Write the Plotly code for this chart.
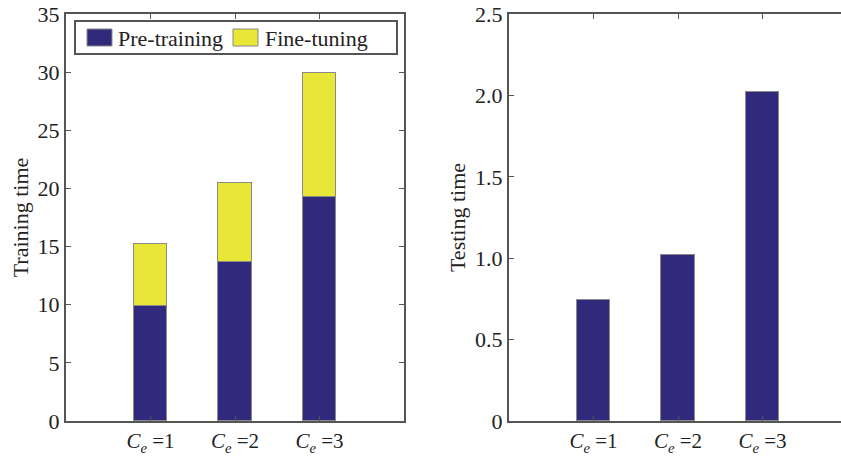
import plotly.graph_objects as go

# Data
categories = [1, 2, 3]
tick_labels = ["<i>C</i><sub><i>e</i></sub> =1", "<i>C</i><sub><i>e</i></sub> =2", "<i>C</i><sub><i>e</i></sub> =3"]
series_names = ["Pre-training", "Fine-tuning"]
pre_training = [9.86, 13.65, 19.26]
fine_tuning = [5.39, 6.79, 10.69]
testing_time = [0.745, 1.021, 2.019]

navy = "#312a7c"
yellow = "#e8e637"
axis_color = "#555555"
edge_color = "#8a8a8a"
text_color = "#222222"
font_family = "Liberation Serif, Times New Roman, serif"

W, H = 841, 459

fig = go.Figure()
fig.add_trace(go.Bar(x=categories, y=pre_training, name=series_names[0], width=0.4,
                     marker=dict(color=navy, line=dict(color=edge_color, width=1)),
                     xaxis="x", yaxis="y", showlegend=False))
fig.add_trace(go.Bar(x=categories, y=fine_tuning, name=series_names[1], width=0.4,
                     marker=dict(color=yellow, line=dict(color=edge_color, width=1)),
                     xaxis="x", yaxis="y", showlegend=False))
fig.add_trace(go.Bar(x=categories, y=testing_time, name="Testing", width=0.4, showlegend=False,
                     marker=dict(color=navy, line=dict(color=edge_color, width=1)),
                     xaxis="x2", yaxis="y2"))

common_x = dict(tickmode="array", tickvals=categories, ticktext=tick_labels,
                ticks="inside", ticklen=5, tickcolor=axis_color, showline=True,
                linecolor=axis_color, linewidth=2, showgrid=False, zeroline=False,
                automargin=False,
                tickfont=dict(family=font_family, size=21, color=text_color))
common_y = dict(ticks="inside", ticklen=5, tickcolor=axis_color, showline=True,
                linecolor=axis_color, linewidth=2, showgrid=False, zeroline=False,
                automargin=False,
                tickfont=dict(family=font_family, size=22, color=text_color),
                title_font=dict(family=font_family, size=22, color=text_color))

y_bottom = 1 - 421 / H
y_top = 1 - 14 / H

# Legend box drawn in pixel-derived paper coordinates
def px(x):
    return x / W

def py(y):
    return 1 - y / H

shapes = [
    dict(type="rect", xref="paper", yref="paper", x0=px(75), x1=px(397), y0=py(54), y1=py(21),
         line=dict(color=axis_color, width=2), fillcolor="white", layer="above"),
    dict(type="rect", xref="paper", yref="paper", x0=px(87), x1=px(112), y0=py(46), y1=py(29),
         line=dict(color=edge_color, width=1), fillcolor=navy, layer="above"),
    dict(type="rect", xref="paper", yref="paper", x0=px(233), x1=px(258), y0=py(46), y1=py(29),
         line=dict(color=edge_color, width=1), fillcolor=yellow, layer="above"),
]
annotations = [
    dict(text=series_names[0], xref="paper", yref="paper", x=px(116), y=py(38),
         xanchor="left", yanchor="middle", showarrow=False,
         font=dict(family=font_family, size=22, color=text_color)),
    dict(text=series_names[1], xref="paper", yref="paper", x=px(263), y=py(38),
         xanchor="left", yanchor="middle", showarrow=False,
         font=dict(family=font_family, size=22, color=text_color)),
]

fig.update_layout(
    width=W, height=H,
    margin=dict(l=0, r=0, t=0, b=0),
    paper_bgcolor="white", plot_bgcolor="white",
    barmode="stack",
    bargap=0,
    showlegend=False,
    shapes=shapes,
    annotations=annotations,
    xaxis=dict(common_x, domain=[66 / W, 404 / W], range=[0, 4], mirror="ticks", anchor="y"),
    yaxis=dict(common_y, domain=[y_bottom, y_top], range=[0, 35], mirror="ticks",
               tickvals=[0, 5, 10, 15, 20, 25, 30, 35], anchor="x",
               title=dict(text="Training time", standoff=3)),
    xaxis2=dict(common_x, domain=[509 / W, 1.0], range=[0, (W - 509) / 84.5],
                mirror="ticks", anchor="y2"),
    yaxis2=dict(common_y, domain=[y_bottom, y_top], range=[0, 2.5], mirror=False,
                tickvals=[0, 0.5, 1.0, 1.5, 2.0, 2.5],
                ticktext=["0", "0.5", "1.0", "1.5", "2.0", "2.5"], anchor="x2",
                title=dict(text="Testing time", standoff=3)),
)

fig.write_html("out.html")
